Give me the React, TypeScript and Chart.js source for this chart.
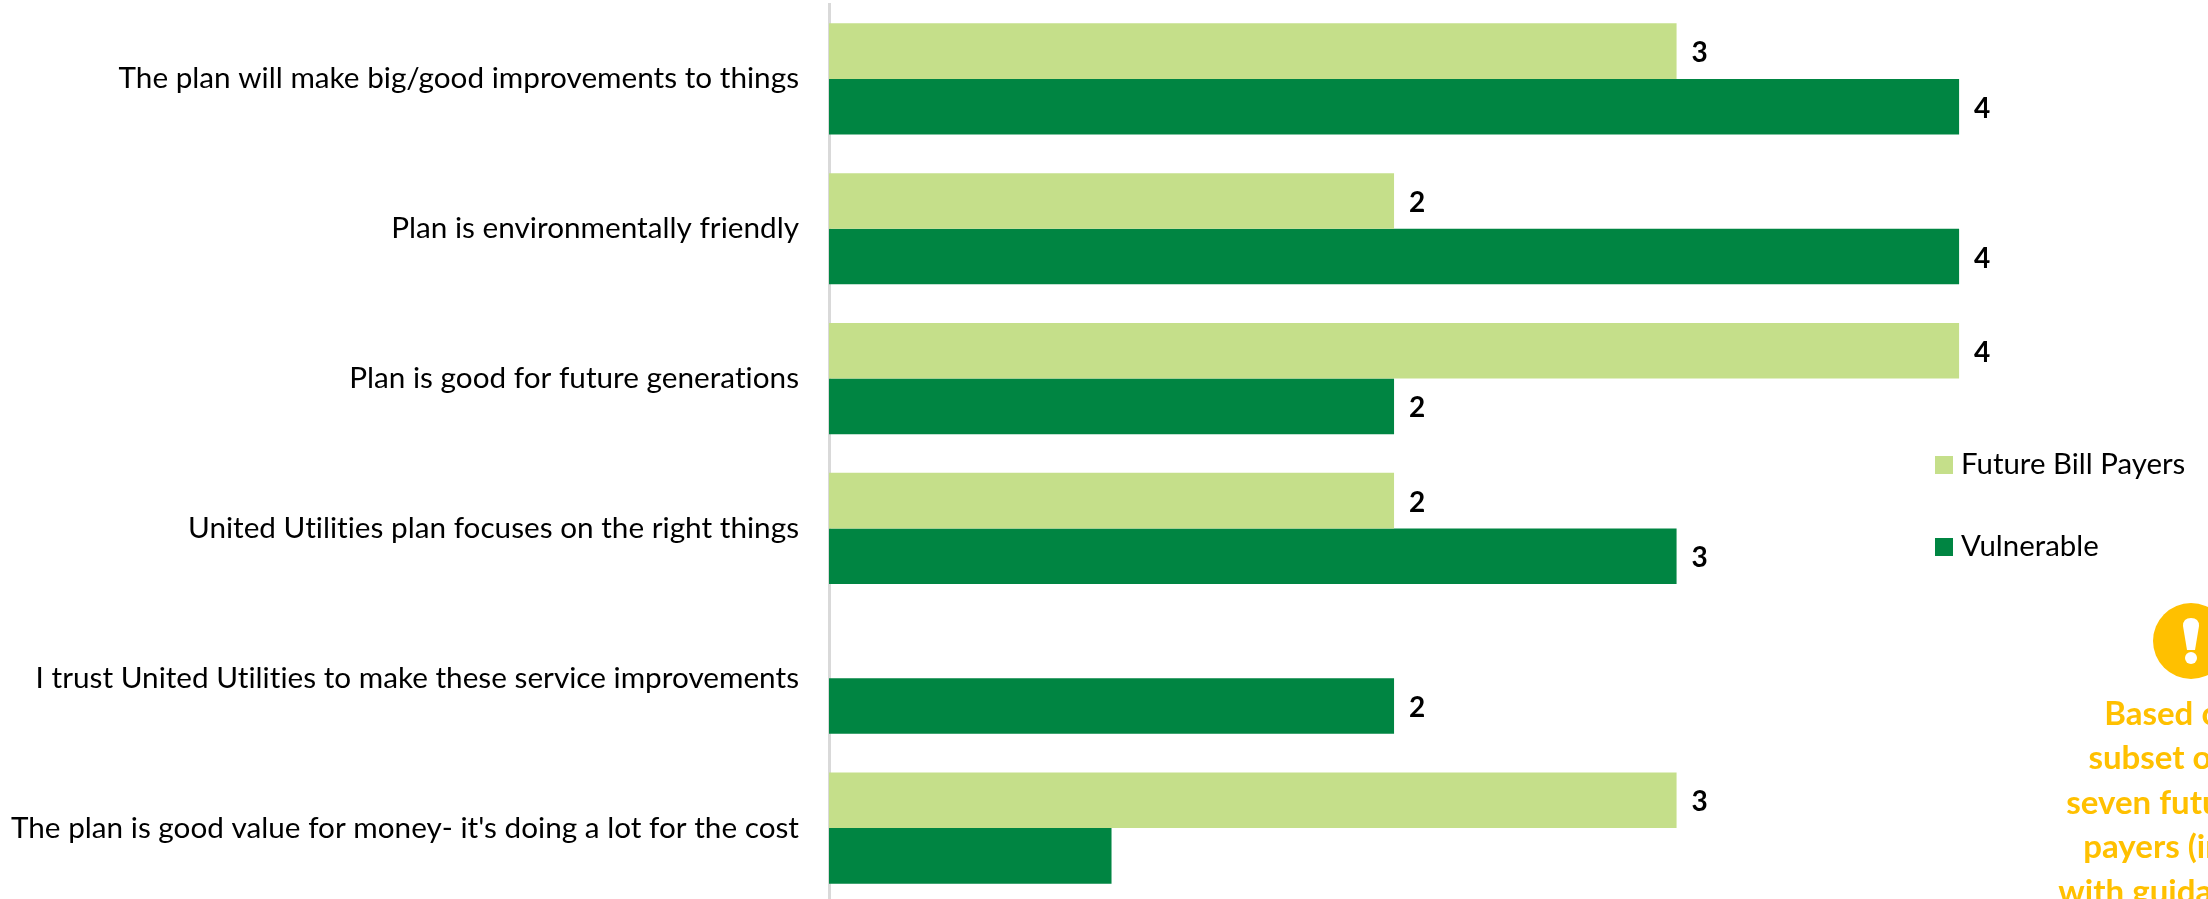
import React, { useEffect, useRef } from "react";
import { Chart, registerables } from "chart.js";

Chart.register(...registerables);

const statements = [
  "The plan will make big/good improvements to things",
  "Plan is environmentally friendly",
  "Plan is good for future generations",
  "United Utilities plan focuses on the right things",
  "I trust United Utilities to make these service improvements",
  "The plan is good value for money- it's doing a lot for the cost",
];
const futureBillPayers = [3, 2, 4, 2, null, 3];
const vulnerable = [4, 4, 2, 3, 2, 1];
const noteLines = ["Based on a", "subset of the", "seven future bill", "payers (in line", "with guidance on"];

const LIGHT = "#c5df8a";
const DARK = "#008542";
const AMBER = "#ffc000";
const FONT = "Lato, Carlito, sans-serif";

// Plain letterforms throughout: no "ti" ligature in the axis text.
const plainText = {
  id: "plainText",
  beforeDraw(chart: any) {
    chart.ctx.letterSpacing = "0.01px";
  },
};

// Value labels beside each bar; the smallest value is left unlabelled.
const valueLabels = {
  id: "valueLabels",
  afterDatasetsDraw(chart: any) {
    const { ctx } = chart;
    ctx.save();
    ctx.font = `bold 28px ${FONT}`;
    ctx.fillStyle = "#000";
    ctx.textBaseline = "middle";
    ctx.textAlign = "left";
    chart.data.datasets.forEach((ds: any, i: number) => {
      chart.getDatasetMeta(i).data.forEach((bar: any, j: number) => {
        const v = ds.data[j];
        if (v == null || v < 2) return;
        ctx.fillText(String(v), bar.x + 15, bar.y + 2);
      });
    });
    ctx.restore();
  },
};

// Legend placed over the free space at the right of the plot.
const sideLegend = {
  id: "sideLegend",
  afterDraw(chart: any) {
    const { ctx } = chart;
    ctx.save();
    ctx.font = `29.4px ${FONT}`;
    ctx.textBaseline = "middle";
    ctx.textAlign = "left";
    chart.data.datasets.forEach((ds: any, i: number) => {
      const y = 465 + i * 82;
      ctx.fillStyle = ds.backgroundColor;
      ctx.fillRect(1935, y - 9, 18, 18);
      ctx.fillStyle = "#000";
      ctx.fillText(ds.label, 1961, y);
    });
    ctx.restore();
  },
};

// Amber warning badge and its caption, which runs off the right edge.
const warningNote = {
  id: "warningNote",
  afterDraw(chart: any) {
    const { ctx } = chart;
    ctx.save();
    ctx.fillStyle = AMBER;
    ctx.beginPath();
    ctx.arc(2191, 641, 38, 0, Math.PI * 2);
    ctx.fill();
    ctx.fillStyle = "#fff";
    ctx.beginPath();
    ctx.moveTo(2183, 626);
    ctx.quadraticCurveTo(2183, 618, 2191, 618);
    ctx.quadraticCurveTo(2199, 618, 2199, 626);
    ctx.lineTo(2195, 650);
    ctx.lineTo(2187, 650);
    ctx.closePath();
    ctx.fill();
    ctx.beginPath();
    ctx.arc(2191, 658, 6, 0, Math.PI * 2);
    ctx.fill();
    ctx.fillStyle = AMBER;
    ctx.font = `bold 33px ${FONT}`;
    ctx.textAlign = "center";
    ctx.textBaseline = "middle";
    noteLines.forEach((line, i) => ctx.fillText(line, 2184, 714 + i * 44.5));
    ctx.restore();
  },
};

export default function App() {
  const ref = useRef<HTMLCanvasElement>(null);

  useEffect(() => {
    const chart = new Chart(ref.current as HTMLCanvasElement, {
      type: "bar",
      data: {
        labels: statements,
        datasets: [
          { label: "Future Bill Payers", data: futureBillPayers, backgroundColor: LIGHT },
          { label: "Vulnerable", data: vulnerable, backgroundColor: DARK },
        ],
      },
      options: {
        indexAxis: "y",
        responsive: false,
        animation: false,
        layout: { padding: { top: 4 } },
        datasets: { bar: { categoryPercentage: 0.742, barPercentage: 1 } },
        plugins: { legend: { display: false }, tooltip: { enabled: false } },
        scales: {
          x: { display: false, min: 0, max: 4.881 },
          y: {
            afterFit(scale: any) {
              scale.width = 829;
              scale.paddingTop = 0;
              scale.paddingBottom = 0;
            },
            grid: { display: false },
            border: { color: "#d9d9d9", width: 3 },
            ticks: {
              padding: 22,
              color: "#000",
              font: { family: FONT, size: 29.7 },
              autoSkip: false,
            },
          },
        },
      },
      plugins: [plainText, valueLabels, sideLegend, warningNote],
    } as any);
    return () => chart.destroy();
  }, []);

  return (
    <div style={{ position: "absolute", left: 0, top: 0, width: 2208, height: 899, overflow: "hidden", background: "#fff" }}>
      <canvas ref={ref} width={2208} height={903} style={{ display: "block" }} />
    </div>
  );
}
